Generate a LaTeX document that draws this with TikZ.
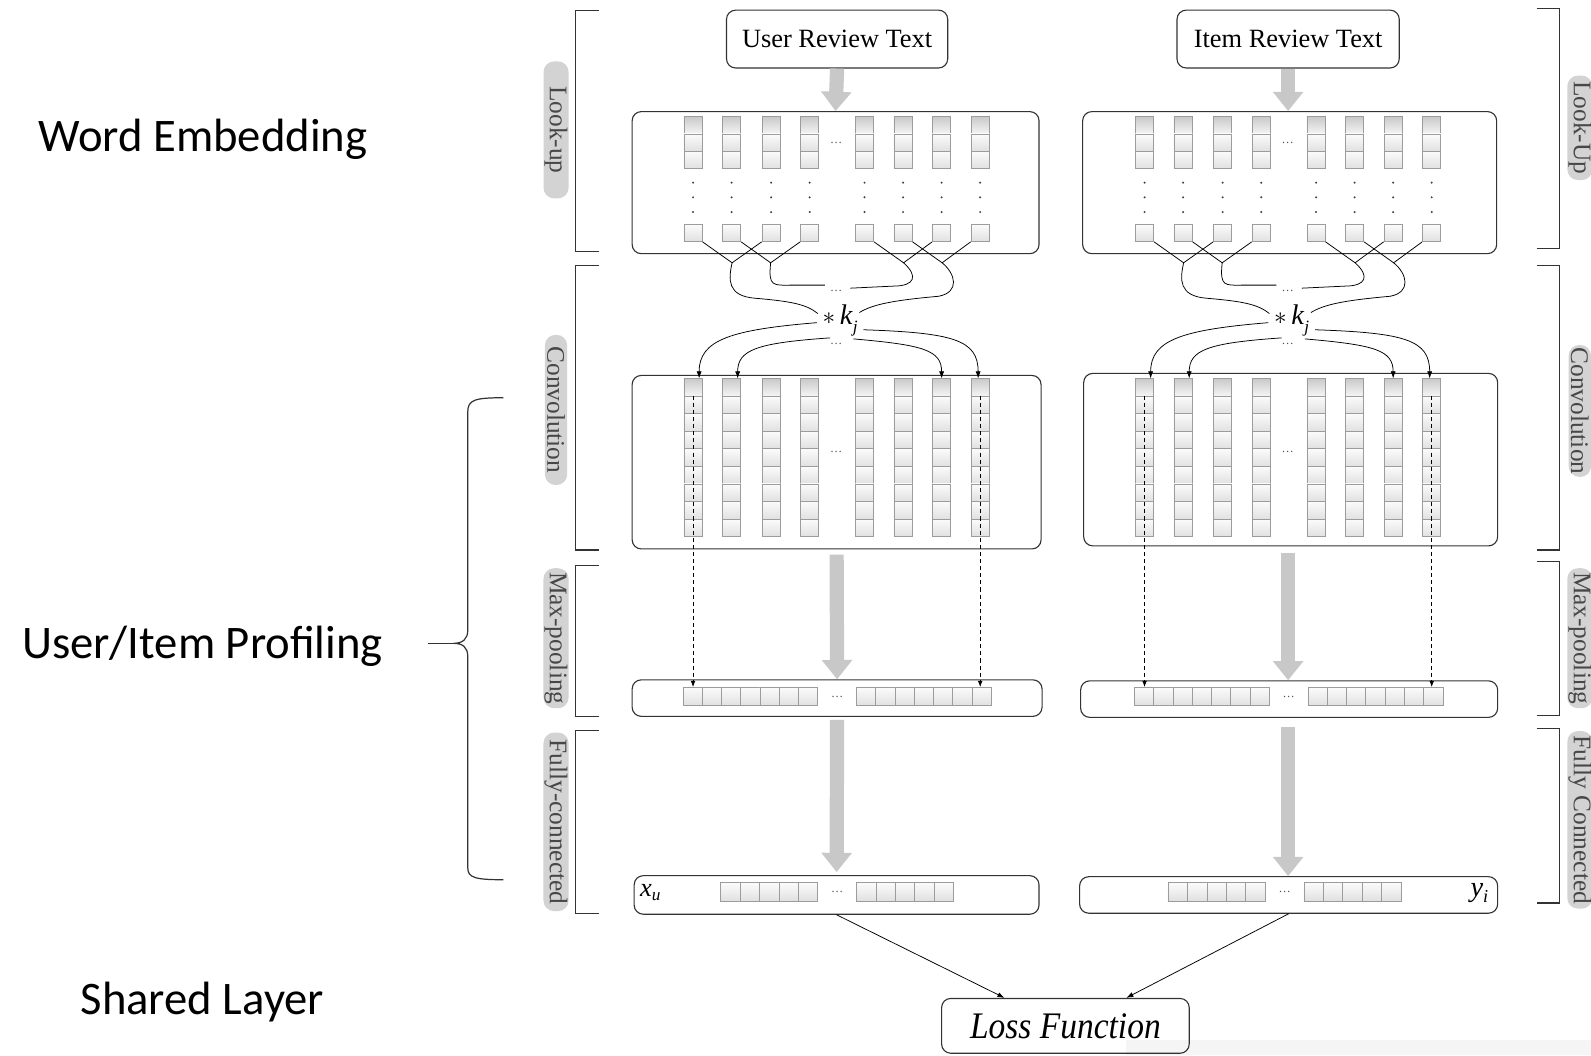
\documentclass[tikz,border=0pt]{standalone}
\usepackage{fontspec}
\setmainfont{Liberation Serif}
\newfontfamily\carl{Carlito}
\usetikzlibrary{arrows.meta,calc}
\definecolor{pillgray}{HTML}{D3D3D3}
\definecolor{labgray}{HTML}{474747}
\definecolor{boxline}{HTML}{333333}
\definecolor{fatgray}{HTML}{C8C8C8}
\definecolor{cellline}{HTML}{9C9C9C}
\definecolor{dotgray}{HTML}{505050}
\tikzset{
  bx/.style={draw=boxline, line width=1.1pt, rounded corners=9pt, inner sep=0pt},
  cellbox/.style={draw=cellline, line width=0.7pt, inner sep=0pt, minimum width=18pt, minimum height=17.33pt, top color=gray!3, bottom color=gray!24},
  topcell/.style={cellbox, top color=gray!42, bottom color=gray!8},
  hcell/.style={cellbox, minimum width=19pt, minimum height=18pt},
  pill/.style={fill=pillgray, text=labgray, rounded corners=10.5pt, rotate=-90, minimum height=22pt, inner sep=1pt, font=\fontsize{25}{25}\selectfont},
  brk/.style={draw=boxline, line width=1.2pt},
  fat/.style={draw=fatgray, line width=14pt, -{Triangle[width=29pt,length=19pt]}},
  wire/.style={draw=black, line width=0.75pt},
  tipped/.style={wire, -{Latex[length=7pt,width=5pt]}},
  dashln/.style={draw=black, line width=0.75pt, dash pattern=on 4pt off 3pt, -{Latex[length=6pt,width=4.5pt]}},
  ellip/.style={text=dotgray, font=\fontsize{12}{12}\selectfont, inner sep=0pt},
  side/.style={font=\carl\fontsize{46}{46}\selectfont, anchor=base, inner sep=0pt},
  dotmark/.style={fill=black!75},
}
\begin{document}
\begin{tikzpicture}[x=1pt,y=-1pt]
\useasboundingbox (0,0) rectangle (1568,1040);
\fill[white] (0,0) rectangle (1568,1040);
\fill[black!4] (1110,1025) rectangle (1568,1040);

% left titles
\node[side] (we) at (200,149) {Word Embedding};
\node[side] (uip) at (199.5,649) {User/Item Profiling};
\node[side] (sl) at (199.5,1000) {Shared Layer};
\draw[brk] (496,392) .. controls (468,392) and (461,394) .. (461,406) -- (461,621) .. controls (461,630) and (456,634) .. (447,634) .. controls (456,634) and (461,638) .. (461,647) -- (461,855) .. controls (461,865) and (468,867) .. (496,867);
\draw[brk] (422,634) -- (447,634);

% left brackets
\draw[brk] (590,10) -- (567,10) -- (567,248) -- (590,248);
\draw[brk] (590,262) -- (567,262) -- (567,542) -- (590,542);
\draw[brk] (590,557) -- (567,557) -- (567,706) -- (590,706);
\draw[brk] (590,720) -- (567,720) -- (567,900) -- (590,900);
% right brackets
\draw[brk] (1515,8) -- (1537,8) -- (1537,245) -- (1515,245);
\draw[brk] (1515,262) -- (1537,262) -- (1537,542) -- (1515,542);
\draw[brk] (1515,553) -- (1537,553) -- (1537,705) -- (1515,705);
\draw[brk] (1515,718) -- (1537,718) -- (1537,890) -- (1515,890);

% pills
\node[pill, minimum width=135pt] (lp1) at (548,128) {Look-up};
\node[pill, minimum width=148pt] (lp2) at (548,404) {Convolution};
\node[pill, minimum width=138pt] (lp3) at (548,629) {Max-pooling};
\node[pill, minimum width=176pt] (lp4) at (548,810) {Fully-connected};
\node[pill, minimum width=103pt] (rp1) at (1557,126) {Look-Up};
\node[pill, minimum width=130pt] (rp2) at (1557,405) {Convolution};
\node[pill, minimum width=138pt] (rp3) at (1557,629) {Max-pooling};
\node[pill, minimum width=175pt] (rp4) at (1557,808) {Fully Connected};

% boxes
\node[bx, minimum width=218pt, minimum height=57pt, font=\fontsize{26}{26}\selectfont] (urt) at (825,38.5) {User Review Text};
\node[bx, minimum width=219pt, minimum height=57pt, font=\fontsize{26}{26}\selectfont] (irt) at (1269.5,38.5) {Item Review Text};
\node[bx, minimum width=401pt, minimum height=140pt] (ulu) at (823.5,180) {};
\node[bx, minimum width=408pt, minimum height=140pt] (ilu) at (1271,180) {};
\node[bx, minimum width=403pt, minimum height=171pt] (ucv) at (824.5,455.5) {};
\node[bx, minimum width=408pt, minimum height=170pt] (icv) at (1272,453) {};
\node[bx, minimum width=404pt, minimum height=36pt] (ump) at (825,688) {};
\node[bx, minimum width=411pt, minimum height=36pt] (imp) at (1270.5,689) {};
\node[bx, minimum width=399pt, minimum height=38pt] (ufc) at (824.5,882) {};
\node[bx, minimum width=412pt, minimum height=36pt] (ifc) at (1270,882) {};
\node[bx, minimum width=244pt, minimum height=54pt, font=\itshape\fontsize{33}{33}\selectfont] (loss) at (1050,1011) {\scalebox{1}[1.12]{Loss Function}};

\node[font=\fontsize{26}{26}\selectfont, inner sep=0pt] (xu) at (641,880) {\textit{x}\raisebox{-0.15em}{\fontsize{17}{17}\selectfont\textit{u}}};
\node[font=\fontsize{28}{28}\selectfont, inner sep=0pt] (yi) at (1458,880) {\textit{y}\raisebox{-0.2em}{\fontsize{18}{18}\selectfont\textit{i}}};

\foreach \s/\dx/\df in {u/0/0,i/445/-4}{
\begin{scope}[xshift=\dx pt]
  \foreach \k/\cx in {1/683,2/721,3/760,4/798,5/852,6/890,7/928,8/966}{
    \node[topcell, minimum height=17pt] (\s lt\k) at (\cx,123.5) {};
    \node[cellbox, minimum height=17pt] (\s lm\k) at (\cx,140.5) {};
    \node[cellbox, minimum height=17pt] (\s ln\k) at (\cx,157.5) {};
    \foreach \yy in {180,194.5,209}{\fill[dotmark] (\cx,\yy) circle (1.1pt);}
    \node[cellbox, minimum height=17pt] (\s lb\k) at (\cx,229.5) {};
    \node[topcell] (\s c\k-1) at (\cx,381.67) {};
    \foreach \r in {2,...,9}{\node[cellbox] (\s c\k-\r) at (\cx,{364.33+\r*17.33}) {};}
  }
  \foreach \k in {0,...,6}{
    \node[hcell] (\s ml\k) at ({682.5+19*\k},686.5) {};
    \node[hcell] (\s mr\k) at ({853.5+19*\k},686.5) {};
  }
  \begin{scope}[xshift=\df pt]
  \foreach \k in {0,...,4}{
    \node[hcell, minimum width=19.2pt] (\s fl\k) at ({719.6+19.2*\k},879) {};
    \node[hcell, minimum width=19.2pt] (\s fr\k) at ({853.6+19.2*\k},879) {};
  }
  \node[ellip] (\s d6) at (825,879) {\ldots};
  \end{scope}
  \node[ellip] (\s d1) at (824,141) {\ldots};
  \node[ellip] (\s d2) at (824,445) {\ldots};
  \node[ellip] (\s d3) at (824,287) {\ldots};
  \node[ellip] (\s d4) at (824,339) {\ldots};
  \node[ellip] (\s d5) at (825,686.5) {\ldots};
  \node[font=\fontsize{28}{28}\selectfont, inner sep=0pt] (\s kj) at (828,316) {$*$\,\textit{k}\raisebox{-0.3em}{\fontsize{17}{17}\selectfont\textit{j}}};
  \coordinate (\s J1) at (721.5,259);
  \coordinate (\s J2) at (759.5,259);
  \coordinate (\s J3) at (890.5,259);
  \coordinate (\s J4) at (928.5,259);
  \coordinate (\s kA) at (806,309);
  \coordinate (\s kB) at (813,281);
  \coordinate (\s kC) at (838,284);
  \coordinate (\s kD) at (847,308);
  \coordinate (\s kE) at (805,318);
  \coordinate (\s kF) at (818,333);
  \coordinate (\s kG) at (841,334);
  \coordinate (\s kH) at (851,325);
  \coordinate (\s T1) at (689,373);
  \coordinate (\s T2) at (727,373);
  \coordinate (\s T3) at (928,373);
  \coordinate (\s T4) at (964,373);
  \draw[wire] (\s lb1.south east) -- (\s J1) -- (\s lb3.south west);
  \draw[wire] (\s lb2.south east) -- (\s J2) -- (\s lb4.south west);
  \draw[wire] (\s lb5.south east) -- (\s J3) -- (\s lb7.south west);
  \draw[wire] (\s lb6.south east) -- (\s J4) -- (\s lb8.south west);
  \draw[wire] (\s J1) .. controls (718,275) and (716,292) .. (745,294) .. controls (780,297) and (795,300) .. (\s kA);
  \draw[wire] (\s J2) .. controls (757,283) and (762,281) .. (780,281) -- (\s kB);
  \draw[wire] (\s J3) .. controls (905,272) and (902,282) .. (880,282) -- (\s kC);
  \draw[wire] (\s J4) .. controls (942,270) and (946,288) .. (925,292) .. controls (880,296) and (860,300) .. (\s kD);
  \draw[tipped] (\s kE) .. controls (720,325) and (689,335) .. (\s T1);
  \draw[tipped] (\s kF) .. controls (745,338) and (727,345) .. (\s T2);
  \draw[tipped] (\s kG) .. controls (910,340) and (928,345) .. (\s T3);
  \draw[tipped] (\s kH) .. controls (940,328) and (964,335) .. (\s T4);
  \draw[dashln] (\s c1-2.north) -- (\s c1-2.north |- \s ml0.north);
  \draw[dashln] (\s c8-2.north) -- (\s c8-2.north |- \s mr6.north);
\end{scope}
}

% fat arrows
\draw[fat] (urt.south) -- (ulu.north);
\draw[fat] (irt.south) -- (irt.south |- ilu.north);
\draw[fat, shorten <=5pt] (ucv.south) -- (ump.north);
\draw[fat, shorten <=6pt] (icv.south -| irt.south) -- (irt.south |- imp.north);
\draw[fat, shorten <=3pt, shorten >=3pt] (ump.south) -- (ufc.north);
\draw[fat, shorten <=9pt] (imp.south -| irt.south) -- (irt.south |- ifc.north);

% to loss
\draw[tipped] (ufc.south) -- ([xshift=-60pt]loss.north);
\draw[tipped] (ifc.south) -- ([xshift=60pt]loss.north);
\end{tikzpicture}
\end{document}
